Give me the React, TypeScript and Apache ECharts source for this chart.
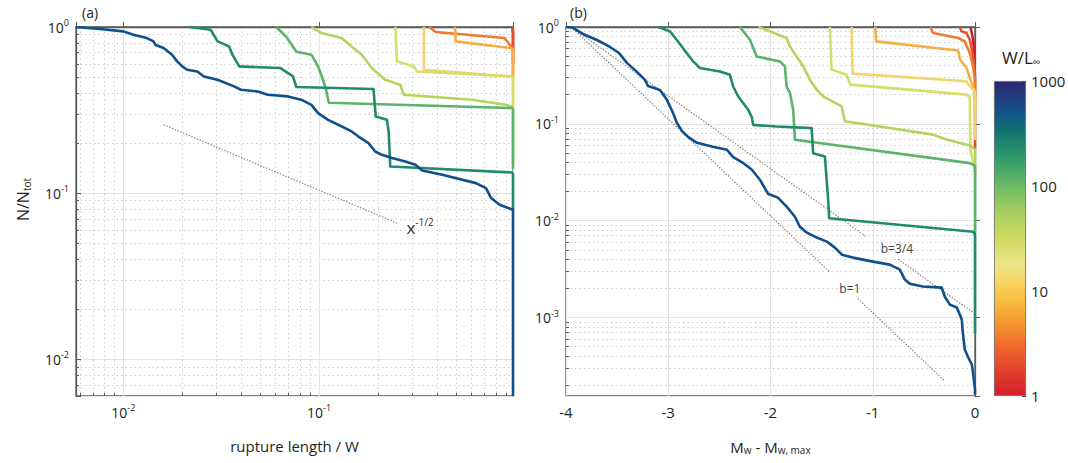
import React, { useEffect, useRef } from 'react';
import * as echarts from 'echarts';

// ---------- data ----------
// W/L∞ of each curve (colour order: red -> blue)
const curveNames = ['1', '2', '3', '5', '10', '20', '50', '100', '200', '500'];
const curveColors = ['#c9222b', '#e4502b', '#ee7a2f', '#f7ad45', '#efd470', '#d6de6b', '#b4d45d', '#5bb36b', '#218a6b', '#0f4f8c'];

// Panel (a): [rupture length / W, N/Ntot]
const aRed = [[0.975, 1], [0.98, 0.96], [0.98, 0.73]];
const aRedOrange = [[0.97, 1], [0.98, 0.92], [0.98, 0.6]];
const aOrange = [[0.365, 1], [0.3945, 0.933], [0.886, 0.858], [0.958, 0.764], [0.98, 0.73], [0.98, 0.5]];
const aOrangeYellow = [[0.4955, 1], [0.499, 0.819], [0.955, 0.747], [0.98, 0.73], [0.98, 0.5]];
const aLightYellow = [[0.3436, 1], [0.3436, 0.553], [0.97, 0.502], [0.98, 0.5], [0.98, 0.33]];
const aLime = [[0.2455, 1], [0.25, 0.621], [0.305, 0.579], [0.317, 0.54], [0.98, 0.504], [0.98, 0.33]];
const aYellowGreen = [[0.0914, 1], [0.1028, 0.92], [0.1303, 0.858], [0.1468, 0.764], [0.1653, 0.681], [0.186, 0.566], [0.218, 0.481], [0.26, 0.449], [0.271, 0.391], [0.608, 0.365], [0.899, 0.34], [0.97, 0.331], [0.98, 0.32], [0.98, 0.15]];
const aGreen = [[0.0604, 1], [0.068, 0.874], [0.0766, 0.71], [0.0914, 0.681], [0.0989, 0.579], [0.1049, 0.481], [0.1091, 0.409], [0.1122, 0.35], [0.97, 0.325], [0.98, 0.32], [0.98, 0.14]];
const aTeal = [[0.02163, 1], [0.02793, 0.963], [0.0303, 0.819], [0.0347, 0.764], [0.0361, 0.681], [0.0391, 0.579], [0.0635, 0.566], [0.0736, 0.504], [0.0766, 0.435], [0.1897, 0.423], [0.195, 0.289], [0.2222, 0.2766], [0.2269, 0.235], [0.2312, 0.1446], [0.97, 0.133], [0.98, 0.13], [0.98, 0.079]];
const aBlue = [[0.00573, 1], [0.00759, 0.973], [0.01, 0.941], [0.01126, 0.899], [0.01319, 0.858], [0.01426, 0.819], [0.01455, 0.782], [0.01606, 0.747], [0.01775, 0.681], [0.01883, 0.621], [0.02, 0.579], [0.0212, 0.553], [0.02387, 0.54], [0.02582, 0.504], [0.03028, 0.481], [0.0368, 0.439], [0.0399, 0.419], [0.0486, 0.409], [0.0547, 0.391], [0.0693, 0.382], [0.0811, 0.365], [0.0914, 0.34], [0.0989, 0.303], [0.1113, 0.276], [0.1254, 0.258], [0.1468, 0.235], [0.159, 0.219], [0.179, 0.2], [0.1936, 0.178], [0.2096, 0.17], [0.236, 0.1625], [0.276, 0.155], [0.311, 0.148], [0.3367, 0.1367], [0.4266, 0.1288], [0.633, 0.1148], [0.713, 0.1072], [0.756, 0.0937], [0.836, 0.0851], [0.98, 0.0793], [0.98, 0.006]];
const panelACurves = [aRed, aRedOrange, aOrange, aOrangeYellow, aLightYellow, aLime, aYellowGreen, aGreen, aTeal, aBlue];

// Panel (b): [Mw - Mw,max, N/Ntot]
const bRed = [[-0.044, 1], [-0.0186, 0.739], [0, 0.46]];
const bRedOrange = [[-0.149, 1], [-0.132, 0.901], [-0.083, 0.867], [-0.051, 0.739], [-0.024, 0.539], [0, 0.321], [0, 0.055]];
const bOrange = [[-0.437, 1], [-0.41, 0.867], [-0.165, 0.77], [-0.1, 0.71], [-0.051, 0.539], [-0.0186, 0.392], [0, 0.285], [0, 0.177]];
const bOrangeYellow = [[-0.975, 1], [-0.967, 0.71], [-0.165, 0.573], [-0.144, 0.46], [-0.083, 0.378], [-0.034, 0.265], [0, 0.215], [0, 0.14]];
const bLightYellow = [[-1.207, 1], [-1.197, 0.33], [-0.083, 0.275], [-0.07, 0.26], [0, 0.215], [0, 0.068]];
const bLime = [[-1.419, 1], [-1.403, 0.363], [-1.256, 0.322], [-1.219, 0.254], [-0.083, 0.2005], [-0.051, 0.191], [-0.046, 0.0543], [0, 0.034]];
const bYellowGreen = [[-2.12, 1], [-2.006, 0.901], [-1.843, 0.77], [-1.81, 0.631], [-1.745, 0.497], [-1.68, 0.392], [-1.615, 0.286], [-1.549, 0.226], [-1.485, 0.1925], [-1.305, 0.1518], [-1.273, 0.1064], [-0.41, 0.0774], [-0.279, 0.0688], [-0.051, 0.0597], [0, 0.0543], [0, 0.03]];
const bGreen = [[-2.299, 1], [-2.201, 0.739], [-2.136, 0.497], [-1.908, 0.441], [-1.859, 0.392], [-1.843, 0.243], [-1.81, 0.208], [-1.778, 0.1396], [-1.761, 0.0684], [-0.051, 0.0393], [0, 0.0368], [0, 0.0075]];
const bTeal = [[-3.098, 1], [-2.983, 0.901], [-2.918, 0.739], [-2.82, 0.538], [-2.756, 0.441], [-2.69, 0.377], [-2.495, 0.347], [-2.397, 0.321], [-2.365, 0.243], [-2.316, 0.1915], [-2.218, 0.1396], [-2.185, 0.119], [-2.169, 0.0977], [-1.94, 0.0938], [-1.598, 0.0903], [-1.583, 0.0498], [-1.468, 0.0459], [-1.436, 0.01637], [-1.426, 0.0106], [-0.0186, 0.0077], [0, 0.00713], [0, 0.00069]];
const bBlue = [[-4, 1], [-3.941, 0.99], [-3.834, 0.847], [-3.697, 0.734], [-3.57, 0.622], [-3.482, 0.539], [-3.404, 0.426], [-3.306, 0.344], [-3.228, 0.284], [-3.198, 0.246], [-3.081, 0.224], [-3.013, 0.177], [-2.954, 0.13], [-2.915, 0.102], [-2.866, 0.0847], [-2.807, 0.0734], [-2.719, 0.0637], [-2.563, 0.058], [-2.426, 0.054], [-2.368, 0.0457], [-2.27, 0.0396], [-2.182, 0.0336], [-2.104, 0.0265], [-2.025, 0.019], [-1.928, 0.0173], [-1.84, 0.0139], [-1.761, 0.011], [-1.713, 0.00867], [-1.644, 0.00752], [-1.566, 0.00684], [-1.449, 0.00608], [-1.37, 0.00527], [-1.302, 0.00446], [-1.195, 0.00416], [-0.999, 0.00378], [-0.833, 0.00352], [-0.735, 0.00312], [-0.686, 0.00247], [-0.637, 0.00224], [-0.51, 0.00209], [-0.325, 0.00204], [-0.295, 0.00164], [-0.246, 0.00136], [-0.178, 0.00127], [-0.129, 0.000953], [-0.119, 0.0007], [-0.1, 0.000468], [-0.07, 0.000396], [-0.031, 0.000328], [-0.021, 0.000277], [0, 0.000181], [0, 0.000161]];
const panelBCurves = [bRed, bRedOrange, bOrange, bOrangeYellow, bLightYellow, bLime, bYellowGreen, bGreen, bTeal, bBlue];

// reference power laws
const aRefLine = [[0.01607, 0.2578], [0.2502, 0.066]];
const aRefLabel = [0.2502, 0.066];
const bRefB1 = [[-3.95, 1], [-1.42, 0.00295], '-', [-1.146, 0.00157], [-0.3, 0.000224]];
const bRefB34 = [[-3.95, 1], [-1.067, 0.00689], '-', [-0.754, 0.00401], [-0.02, 0.00113]];
const bRefB1Label = [-1.224, 0.00201];
const bRefB34Label = [-0.764, 0.00522];

// axis extents
const aXRange = [0.00573, 0.98];
const aYRange = [0.006, 1];
const bXRange = [-4, 0];
const bYRange = [0.000155, 1];
const cbRange = [0, 3]; // log10(W/L∞): 1 .. 1000
const bXTicks = [-4, -3, -2, -1, 0];

// colour map of the colour bar (offset = log10(W/L∞)/3)
const cmapStops = [
  [0, '#d31f2a'], [0.1, '#e54a2a'], [0.16, '#ee6c2c'], [0.23, '#f5962f'], [0.31, '#f9c046'],
  [0.36, '#f8d562'], [0.42, '#e9e48b'], [0.5, '#d0db5f'], [0.58, '#a9cf5f'], [0.667, '#6bbb66'],
  [0.72, '#46a867'], [0.78, '#23906a'], [0.84, '#13736f'], [0.89, '#0f5a87'], [0.94, '#1f4086'], [1, '#2b2a6a'],
];

// ---------- helpers ----------
const FONT = 'Open Sans';
const TXT = '#231f20';
const AXIS = '#5a5a5a';
const MAJOR = '#e3e3e3';
const MINOR = '#cfcfcf';

function minorLogs(lo: number, hi: number): number[] {
  const out: number[] = [];
  for (let e = Math.floor(lo) - 1; e <= Math.ceil(hi); e++) {
    for (let k = 2; k <= 9; k++) {
      const v = e + Math.log10(k);
      if (v > lo + 1e-9 && v < hi - 1e-9) out.push(v);
    }
  }
  return out;
}

function powLabel(v: number): string {
  const e = Math.log10(v);
  const r = Math.round(e);
  if (Math.abs(e - r) > 1e-6) return '';
  return `{b|10}{s|${r}}`;
}

const powRich = {
  b: { fontSize: 14, fontFamily: FONT, color: TXT },
  s: { fontSize: 9, fontFamily: FONT, color: TXT, padding: [0, 0, 9, 0] },
};

const mainAxisLine = { show: true, lineStyle: { color: AXIS, width: 1.3 } };

function logAxis(gridIndex: number, range: number[], extra: any = {}) {
  return {
    type: 'log', logBase: 10, gridIndex, min: range[0], max: range[1],
    axisLine: mainAxisLine,
    axisTick: { show: true, inside: true, length: 5, lineStyle: { color: AXIS } },
    axisLabel: { formatter: powLabel, rich: powRich, fontFamily: FONT, color: TXT, margin: 7 },
    splitLine: { show: true, lineStyle: { color: MAJOR, width: 1 } },
    minorTick: { show: false }, minorSplitLine: { show: false },
    nameMoveOverlap: false,
    ...extra,
  };
}

function minorAxis(gridIndex: number, range: number[], position: string) {
  const lo = Math.log10(range[0]);
  const hi = Math.log10(range[1]);
  return {
    type: 'value', gridIndex, min: lo, max: hi, position,
    axisLine: { show: false },
    axisLabel: { show: false },
    axisTick: { show: true, inside: true, length: 3, customValues: minorLogs(lo, hi), lineStyle: { color: AXIS } },
    splitLine: { show: true, lineStyle: { color: MINOR, width: 1, type: [1.5, 3] } },
  };
}

function curveSeries(data: any[], i: number, xi: number, yi: number) {
  return {
    type: 'line', name: curveNames[i], xAxisIndex: xi, yAxisIndex: yi, data,
    symbol: 'none', showSymbol: false, silent: true, clip: true,
    lineStyle: { color: curveColors[i], width: 2.6, join: 'round' },
    z: 3 + i,
  };
}

const refStyle = { color: '#8a8a8a', width: 1.3, type: [1.4, 1.6] };

function refLabel(label: any, at: number[]) {
  return {
    symbol: 'circle', symbolSize: 1, silent: true,
    itemStyle: { color: 'rgba(0,0,0,0)' },
    label: { show: true, fontFamily: FONT, fontSize: 12, color: '#444', ...label },
    data: [{ coord: at }],
  };
}

export default function App() {
  const ref = useRef<HTMLDivElement>(null);

  useEffect(() => {
    if (!ref.current) return;
    const chart = echarts.init(ref.current, null, { renderer: 'svg' });

    const series: any[] = [];
    panelACurves.forEach((d, i) => series.push(curveSeries(d, i, 0, 0)));
    panelBCurves.forEach((d, i) => series.push(curveSeries(d, i, 2, 2)));

    series.push({
      type: 'line', xAxisIndex: 0, yAxisIndex: 0, symbol: 'none', silent: true, z: 2,
      lineStyle: refStyle, data: aRefLine,
      markPoint: refLabel({
        position: 'right', distance: 9, offset: [0, 4],
        formatter: '{x|x}{s|-1/2}',
        rich: {
          x: { fontSize: 17, fontFamily: FONT, color: '#333' },
          s: { fontSize: 10, fontFamily: FONT, color: '#333', padding: [0, 0, 10, 0] },
        },
      }, aRefLabel),
    });
    series.push({
      type: 'line', xAxisIndex: 2, yAxisIndex: 2, symbol: 'none', silent: true, z: 2,
      lineStyle: refStyle, data: bRefB1, markPoint: refLabel({ position: 'inside', formatter: 'b=1' }, bRefB1Label),
    });
    series.push({
      type: 'line', xAxisIndex: 2, yAxisIndex: 2, symbol: 'none', silent: true, z: 2,
      lineStyle: refStyle, data: bRefB34, markPoint: refLabel({ position: 'inside', formatter: 'b=3/4' }, bRefB34Label),
    });

    // colour bar
    series.push({
      type: 'bar', xAxisIndex: 3, yAxisIndex: 4, data: [cbRange[1]], barWidth: '100%', silent: true,
      itemStyle: {
        color: new echarts.graphic.LinearGradient(0, 1, 0, 0, cmapStops.map(([o, c]) => ({ offset: o as number, color: c as string }))),
        borderColor: '#666', borderWidth: 0.8,
      },
    });

    const option: any = {
      animation: false,
      backgroundColor: '#ffffff',
      textStyle: { fontFamily: FONT },
      title: [
        { text: '(a)', left: 77, top: 0, textStyle: { fontSize: 14, fontWeight: 'normal', fontFamily: FONT, color: TXT } },
        { text: '(b)', left: 565, top: 0, textStyle: { fontSize: 14, fontWeight: 'normal', fontFamily: FONT, color: TXT } },
        {
          text: 'W/L{sub|∞}', left: 997, top: 42,
          textStyle: {
            fontSize: 17, fontWeight: 'normal', fontFamily: FONT, color: TXT,
            rich: {
              sub: { fontSize: 11, fontFamily: FONT, color: TXT, padding: [9, 0, 0, 0] },
            },
          },
        },
      ],
      grid: [
        { left: 76, top: 27, width: 437, height: 369, show: true, borderColor: AXIS, borderWidth: 1.3, outerBoundsMode: 'none', containLabel: false },
        { left: 566, top: 27, width: 409, height: 369, show: true, borderColor: AXIS, borderWidth: 1.3, outerBoundsMode: 'none', containLabel: false },
        { left: 994, top: 81, width: 32, height: 315, show: false, outerBoundsMode: 'none', containLabel: false },
      ],
      xAxis: [
        logAxis(0, aXRange, {
          position: 'bottom',
          name: 'rupture length / W', nameLocation: 'middle', nameGap: 42,
          nameTextStyle: { fontSize: 15, fontFamily: FONT, color: TXT },
        }),
        minorAxis(0, aXRange, 'bottom'),
        {
          type: 'value', gridIndex: 1, min: bXRange[0], max: bXRange[1], interval: 1, position: 'bottom',
          axisLine: mainAxisLine,
          axisTick: { show: true, inside: true, length: 5, customValues: bXTicks, lineStyle: { color: AXIS } },
          axisLabel: { fontSize: 15, fontFamily: FONT, color: TXT, margin: 8 },
          splitLine: { show: true, lineStyle: { color: MAJOR, width: 1 } },
          name: 'M{sub|w} - M{sub|w, max}', nameLocation: 'middle', nameGap: 42, nameMoveOverlap: false,
          nameTextStyle: {
            fontSize: 15, fontFamily: FONT, color: TXT,
            rich: { sub: { fontSize: 10, fontFamily: FONT, color: TXT, padding: [7, 0, 0, 0] } },
          },
        },
        { type: 'category', gridIndex: 2, data: ['W/L'], show: false, boundaryGap: true },
      ],
      yAxis: [
        logAxis(0, aYRange, {
          position: 'left',
          name: 'N/N{sub|tot}', nameLocation: 'middle', nameGap: 44,
          nameTextStyle: {
            fontSize: 16, fontFamily: FONT, color: TXT, padding: [0, 0, 0, 24],
            rich: { sub: { fontSize: 10, fontFamily: FONT, color: TXT, padding: [8, 0, 0, 0] } },
          },
        }),
        minorAxis(0, aYRange, 'left'),
        logAxis(1, bYRange, { position: 'left' }),
        minorAxis(1, bYRange, 'left'),
        {
          type: 'value', gridIndex: 2, min: cbRange[0], max: cbRange[1], interval: 1, position: 'right',
          axisLine: { show: false },
          axisTick: { show: true, inside: true, length: 4, lineStyle: { color: '#444' } },
          minorTick: { show: true, splitNumber: 2, length: 3, lineStyle: { color: '#444' } },
          axisLabel: { formatter: (v: number) => String(Math.round(Math.pow(10, v))), fontSize: 15, fontFamily: FONT, color: TXT, margin: 5 },
          splitLine: { show: false },
        },
      ],
      series,
    };

    chart.setOption(option);
    return () => chart.dispose();
  }, []);

  return <div ref={ref} style={{ position: 'fixed', left: 0, top: 0, width: 1068, height: 463 }} />;
}
